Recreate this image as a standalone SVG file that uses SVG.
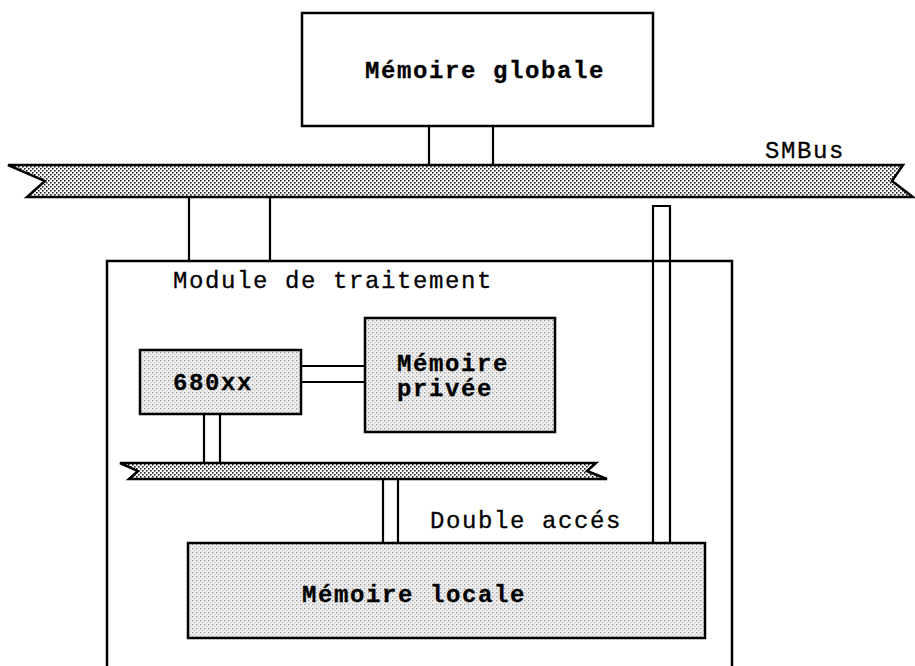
<svg xmlns="http://www.w3.org/2000/svg" width="915" height="666" viewBox="0 0 915 666">
  <defs>
    <!-- dense stipple for bus ribbons -->
    <pattern id="busDots" width="4" height="4" patternUnits="userSpaceOnUse">
      <rect width="4" height="4" fill="#ffffff"/>
      <rect x="0" y="0" width="1.6" height="1.6" fill="#222"/>
      <rect x="2" y="2" width="1.6" height="1.6" fill="#222"/>
    </pattern>
    <!-- light stipple for shaded blocks -->
    <pattern id="boxDots" width="4" height="4" patternUnits="userSpaceOnUse">
      <rect width="4" height="4" fill="#efefef"/>
      <rect x="0" y="0" width="1.3" height="1.3" fill="#9a9a9a"/>
      <rect x="2" y="2" width="1.3" height="1.3" fill="#c4c4c4"/>
    </pattern>
  </defs>
  <style>
    .box { stroke: #000; stroke-width: 2.5; }
    .plain { fill: #fff; }
    .shaded { fill: url(#boxDots); }
    .bus { fill: url(#busDots); stroke: #000; stroke-width: 2.5; stroke-linejoin: miter; }
    .wire { stroke: #000; stroke-width: 2.2; fill: none; }
    .lbl { font-family: "Liberation Mono", "DejaVu Sans Mono", monospace; font-size: 24px; letter-spacing: 1.6px; fill: #000; stroke: #000; stroke-width: 0.3px; }
    .bold { font-weight: bold; }
  </style>

  <rect width="915" height="666" fill="#fff"/>

  <!-- processing module outline (open at the bottom edge) -->
  <g id="module">
    <rect class="box plain" x="107" y="261" width="625" height="430"/>
    <text class="lbl" x="173" y="288">Module de traitement</text>
  </g>

  <g id="global-memory">
    <rect class="box plain" x="302" y="13" width="351" height="113"/>
    <text class="lbl bold" x="365" y="78">Mémoire globale</text>
  </g>

  <g id="smbus">
    <path class="bus" d="M8,165 L903,165 L892,181 L913,197 L27,197 L45,181 Z"/>
    <text class="lbl" x="765" y="158">SMBus</text>
  </g>

  <g id="cpu">
    <rect class="box shaded" x="140" y="350" width="161" height="64"/>
    <text class="lbl bold" x="173" y="390">680xx</text>
  </g>

  <g id="private-memory">
    <rect class="box shaded" x="365" y="318" width="190" height="114"/>
    <text class="lbl bold" x="397" y="371">Mémoire</text>
    <text class="lbl bold" x="397" y="396">privée</text>
  </g>

  <g id="local-bus">
    <path class="bus" d="M120,463 L596,463 L587,471 L607,479 L129,479 L138,471 Z"/>
  </g>

  <g id="local-memory">
    <rect class="box shaded" x="188" y="543" width="517" height="95"/>
    <text class="lbl bold" x="302" y="602">Mémoire locale</text>
    <text class="lbl" x="430" y="528">Double accés</text>
  </g>

  <g id="connectors">
    <!-- global memory to SMBus -->
    <line class="wire" x1="429" y1="126" x2="429" y2="165"/>
    <line class="wire" x1="493" y1="126" x2="493" y2="165"/>
    <!-- SMBus to processing module -->
    <line class="wire" x1="189" y1="197" x2="189" y2="261"/>
    <line class="wire" x1="270" y1="197" x2="270" y2="261"/>
    <!-- 680xx to private memory -->
    <line class="wire" x1="301" y1="366" x2="365" y2="366"/>
    <line class="wire" x1="301" y1="382" x2="365" y2="382"/>
    <!-- 680xx to local bus -->
    <line class="wire" x1="204" y1="414" x2="204" y2="463"/>
    <line class="wire" x1="220" y1="414" x2="220" y2="463"/>
    <!-- local bus to local memory -->
    <line class="wire" x1="383" y1="479" x2="383" y2="543"/>
    <line class="wire" x1="398" y1="479" x2="398" y2="543"/>
    <!-- dual-port rail from local memory up toward SMBus -->
    <path class="wire" d="M653,543 V206 H670 V543" fill="#fff"/>
  </g>
</svg>
